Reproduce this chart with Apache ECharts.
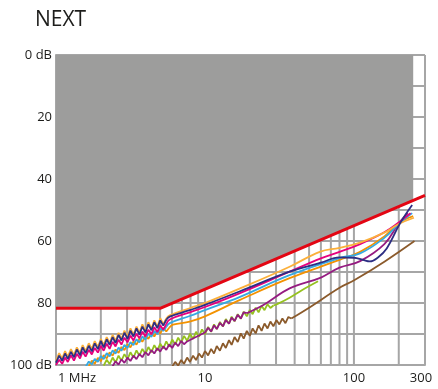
<!DOCTYPE html>
<html>
<head>
<meta charset="utf-8">
<script src="https://cdn.jsdelivr.net/npm/echarts@6/dist/echarts.min.js"></script>
<style>
html,body{margin:0;padding:0;background:#fff;}
#c{width:438px;height:389px;}
</style>
</head>
<body>
<div id="c"></div>
<script>
// ---- axis / tick values ----
var xTickValues = [1, 10, 100, 300];
var xGridValues = [1,2,3,4,5,6,7,8,9,10,20,30,40,50,60,70,80,90,100,200,300];
var yTickLabels = {0:'0 dB',20:'20',40:'40',60:'60',80:'80',100:'100 dB'};

// ---- limit line (MHz, dB) ----
var limitF  = [1, 5, 300];
var limitDb = [81.7, 81.7, 45.3];
// shaded (failing) region, measured up to 250 MHz
var shadeF  = [1, 5, 250];
var shadeDb = [81.7, 81.7, 46.9];

// ---- frequency grid of the noisy low-frequency part (MHz) ----
var fGrid = [1.00,1.05,1.10,1.15,1.20,1.26,1.32,1.38,1.45,1.51,
             1.58,1.66,1.74,1.82,1.91,2.00,2.09,2.19,2.29,2.40,
             2.51,2.63,2.75,2.88,3.02,3.16,3.31,3.47,3.63,3.80,
             3.98,4.17,4.37,4.57,4.79,5.01,5.25,5.50,5.75,6.03,
             6.31,6.61,6.92,7.24,7.59,7.94,8.32,8.71,9.12,9.55,
             10.0,10.5,11.0,11.5,12.0,12.6,13.2,13.8,14.5,15.1,
             15.8,16.6,17.4,18.2,19.1,20.0,20.9,21.9,22.9,24.0,
             25.1,26.3,27.5,28.8,30.2,31.6,33.1,34.7,36.3,38.0];

// ---- navy ----
var navyStart = 0;
var navyNoise = [99.2,97.0,98.6,96.3,98.0,95.8,97.5,95.0,96.9,94.3,96.2,93.8,95.6,93.0,94.9,92.2,94.3,91.7,93.5,91.0,
                 92.9,90.3,92.1,89.6,91.6,88.9,90.8,88.2,90.2,87.6,89.5,86.9,88.8,86.2,88.1,85.6,87.3,85.4];
var navySmooth = [[5.5,85.4],[5.8,84.4],[7.9,82.3],[10,80.6],[17.2,76.2],[37,69.9],[60,67.0],[80,65.3],[100,65.4],
                  [115,66.1],[128,66.6],[145,65.3],[166,62.4],[204,54.3],[246,48.4]];
// ---- pink ----
var pinkStart = 0;
var pinkNoise = [100.0,98.3,99.6,97.6,99.0,96.9,98.6,96.4,97.9,95.7,97.3,95.1,96.6,94.5,96.0,93.8,95.4,93.1,94.8,92.5,
                 94.0,91.8,93.4,91.2,92.7,90.5,92.1,89.9,91.4,89.2,90.8,88.6,90.1,87.8,89.4,87.2,88.6,86.8];
var pinkSmooth = [[5.5,86.8],[5.8,85.3],[7.9,83.0],[10,81.3],[17.2,76.8],[37,69.9],[60,65.6],[80,63.5],[110,61.0],
                  [160,57.2],[200,54.0],[240,51.0]];
// ---- light orange ----
var lorangeStart = 0;
var lorangeNoise = [98.6,96.2,97.9,95.5,97.3,94.9,96.8,94.3,96.1,93.6,95.5,93.0,94.8,92.3,94.2,91.6,93.6,91.0,92.9,90.3,
                    92.2,89.6,91.6,88.9,90.9,88.2,90.2,87.6,89.6,86.9,88.9,86.2,88.3,85.6,87.6,84.9,86.8,85.0];
var lorangeSmooth = [[5.5,85.0],[5.8,84.0],[7.9,81.7],[10,80.0],[17.2,75.3],[37,68.3],[59,63.5],[80,62.2],[110,60.5],
                     [160,57.3],[200,54.5],[253,52.5]];
// ---- light blue ----
var lblueStart = 10;
var lblueNoise = [100.6,98.9,99.8,98.0,99.0,97.1,98.1,96.2,97.2,95.3,96.3,94.4,95.4,93.5,94.5,92.6,93.6,91.7,92.7,90.8,
                  91.8,89.9,90.9,89.0,90.0,88.1,89.0,87.7];
var lblueSmooth = [[5.5,87.7],[5.8,86.5],[7.9,84.2],[10,82.3],[17.2,78.0],[37,71.0],[80,65.5],[110,64.0],[160,59.0],
                   [200,54.5],[246,51.0]];
// ---- orange ----
var orangeStart = 11;
var orangeNoise = [100.5,98.6,99.6,97.7,98.8,96.8,97.9,95.9,97.0,95.0,96.1,94.2,95.2,93.3,94.3,92.4,93.4,91.5,92.5,90.6,
                   91.6,89.7,90.8,88.8,89.9,88.0,89.2,88.0];
var orangeSmooth = [[5.75,88.0],[6.1,87.0],[7.9,86.0],[10,84.3],[17.2,79.0],[37,72.0],[80,66.1],[110,63.5],[160,58.5],
                    [200,54.2],[250,52.0]];
// ---- green ----
var greenStart = 16;
var greenNoise = [100.2,98.3,99.7,97.6,99.2,97.0,98.6,96.5,98.1,95.9,97.6,95.3,97.0,94.8,96.4,94.2,95.9,93.6,95.3,93.1,
                  94.7,92.4,94.1,91.8,93.4,91.2,92.8,90.6,92.2,89.9,91.6,89.3,90.9,88.5,90.1,87.7,89.3,86.9,88.4,86.1,
                  87.6,85.2,86.7,84.4,85.9,83.6,85.1,82.8,84.3,82.2,83.6,81.5,83.0,80.9,82.3,80.4,81.6,80.8];
var greenSmooth = [[28.8,80.8],[31,80.2],[37,78.3],[45,75.8],[57.5,73.0]];
// ---- purple ----
var purpleStart1 = 19;
var purpleNoise1 = [100.4,98.8,99.9,98.2,99.3,97.6,98.7,97.0,98.1,96.4,97.5,95.8,96.9,95.2,96.3,94.6,95.7,94.0,95.1,93.4,
                    94.5,92.8,93.9,92.2,93.3,92.4];
var purpleBridge = [[8.5,91.2]];
var purpleStart2 = 50;
var purpleNoise2 = [89.5,88.0,89.2,87.2,88.4,86.4,87.5,85.5,86.7,84.7,85.8,83.8,85.0,83.0,83.3];
var purpleSmooth = [[19.1,83.3],[25,80.5],[37,75.3],[60,71.8],[80,68.6],[110,66.5],[160,61.0],[200,54.3],[230,51.0]];
// ---- brown ----
var brownStart = 39;
var brownNoise = [100.5,99.0,100.2,98.4,99.6,97.6,99.0,97.0,98.4,96.3,97.6,95.5,96.9,94.8,96.3,93.9,95.4,93.0,94.5,92.0,
                  93.5,91.0,92.6,89.8,91.5,89.0,90.6,88.2,89.8,87.2,89.0,86.6,88.2,86.0,87.5,85.5,86.9,85.0,86.5,84.5,85.0];
var brownSmooth = [[38,85.0],[50,81.5],[80.6,75.0],[101,72.6],[162,66.5],[255,60.0]];

var colors = {
  navy:'#2d2e83', pink:'#e6007e', lorange:'#fbb03b', lblue:'#36a9e1',
  orange:'#f39200', green:'#95c11f', purple:'#951b81', brown:'#8b5a2b',
  red:'#e30613', shade:'#9d9d9c', grid:'#a6a6a6', text:'#1d1d1b'
};

function noisePairs(start, vals){
  return vals.map(function(v,i){ return [fGrid[start+i], v]; });
}
function zip(a,b){ return a.map(function(v,i){ return [v,b[i]]; }); }

var series = [];
// vertical grid lines (1,2,...,9 per decade), drawn below the shaded area
xGridValues.forEach(function(v){
  series.push({type:'line', data:[[v,0],[v,100]], symbol:'none', silent:true, z:1,
    lineStyle:{color:colors.grid, width:2}});
});
series.push({
  type:'line', data: zip(shadeF, shadeDb), symbol:'none', silent:true,
  lineStyle:{width:0}, areaStyle:{color:colors.shade, opacity:1, origin:'start'}, z:2
});
function addCurve(color, noiseData, smoothData){
  series.push({type:'line', data:noiseData, symbol:'none', smooth:false, silent:true,
    lineStyle:{color:color, width:1.8}, z:3});
  series.push({type:'line', data:smoothData, symbol:'none', smooth:0.4, silent:true,
    lineStyle:{color:color, width:1.8}, z:3});
}
addCurve(colors.brown, noisePairs(brownStart, brownNoise), brownSmooth);
addCurve(colors.green, noisePairs(greenStart, greenNoise), greenSmooth);
addCurve(colors.purple,
  noisePairs(purpleStart1, purpleNoise1).concat(purpleBridge, noisePairs(purpleStart2, purpleNoise2)),
  purpleSmooth);
addCurve(colors.orange, noisePairs(orangeStart, orangeNoise), orangeSmooth);
addCurve(colors.lblue, noisePairs(lblueStart, lblueNoise), lblueSmooth);
addCurve(colors.pink, noisePairs(pinkStart, pinkNoise), pinkSmooth);
addCurve(colors.lorange, noisePairs(lorangeStart, lorangeNoise), lorangeSmooth);
addCurve(colors.navy, noisePairs(navyStart, navyNoise), navySmooth);
series.push({
  type:'line', data: zip(limitF, limitDb), symbol:'none', silent:true,
  lineStyle:{color:colors.red, width:3}, z:5
});

var chart = echarts.init(document.getElementById('c'), null, {renderer:'canvas'});
chart.setOption({
  animation:false,
  backgroundColor:'#ffffff',
  title:{text:'NEXT', left:30, top:5,
    textStyle:{fontFamily:'Open Sans', fontSize:21, fontWeight:'normal', color:colors.text}},
  grid:{left:56, right:13, top:55, bottom:24, containLabel:false},
  xAxis:{
    type:'log', logBase:10, min:1, max:300,
    axisLine:{show:true, onZero:false, lineStyle:{color:colors.grid, width:2}},
    axisTick:{show:false},
    splitLine:{show:false},
    minorSplitLine:{show:false},
    axisLabel:{
      customValues:xTickValues, margin:7,
      fontFamily:'Open Sans', fontSize:13, color:colors.text,
      formatter:function(v){
        if (v === 1) return '{m|1 MHz}';
        if (v === 300) return '{e|300}';
        return String(v);
      },
      rich:{
        m:{fontFamily:'Open Sans', fontSize:13, color:colors.text, padding:[0,0,0,42]},
        e:{fontFamily:'Open Sans', fontSize:13, color:colors.text, padding:[0,8,0,0]}
      }
    }
  },
  yAxis:{
    type:'value', inverse:true, min:0, max:100, interval:10,
    axisLine:{show:true, lineStyle:{color:colors.grid, width:2}},
    axisTick:{show:false},
    splitLine:{show:true, lineStyle:{color:colors.grid, width:2}},
    axisLabel:{
      margin:4, fontFamily:'Open Sans', fontSize:13, color:colors.text,
      formatter:function(v){ return yTickLabels[v] !== undefined ? yTickLabels[v] : ''; }
    }
  },
  series:series
});
</script>
</body>
</html>
